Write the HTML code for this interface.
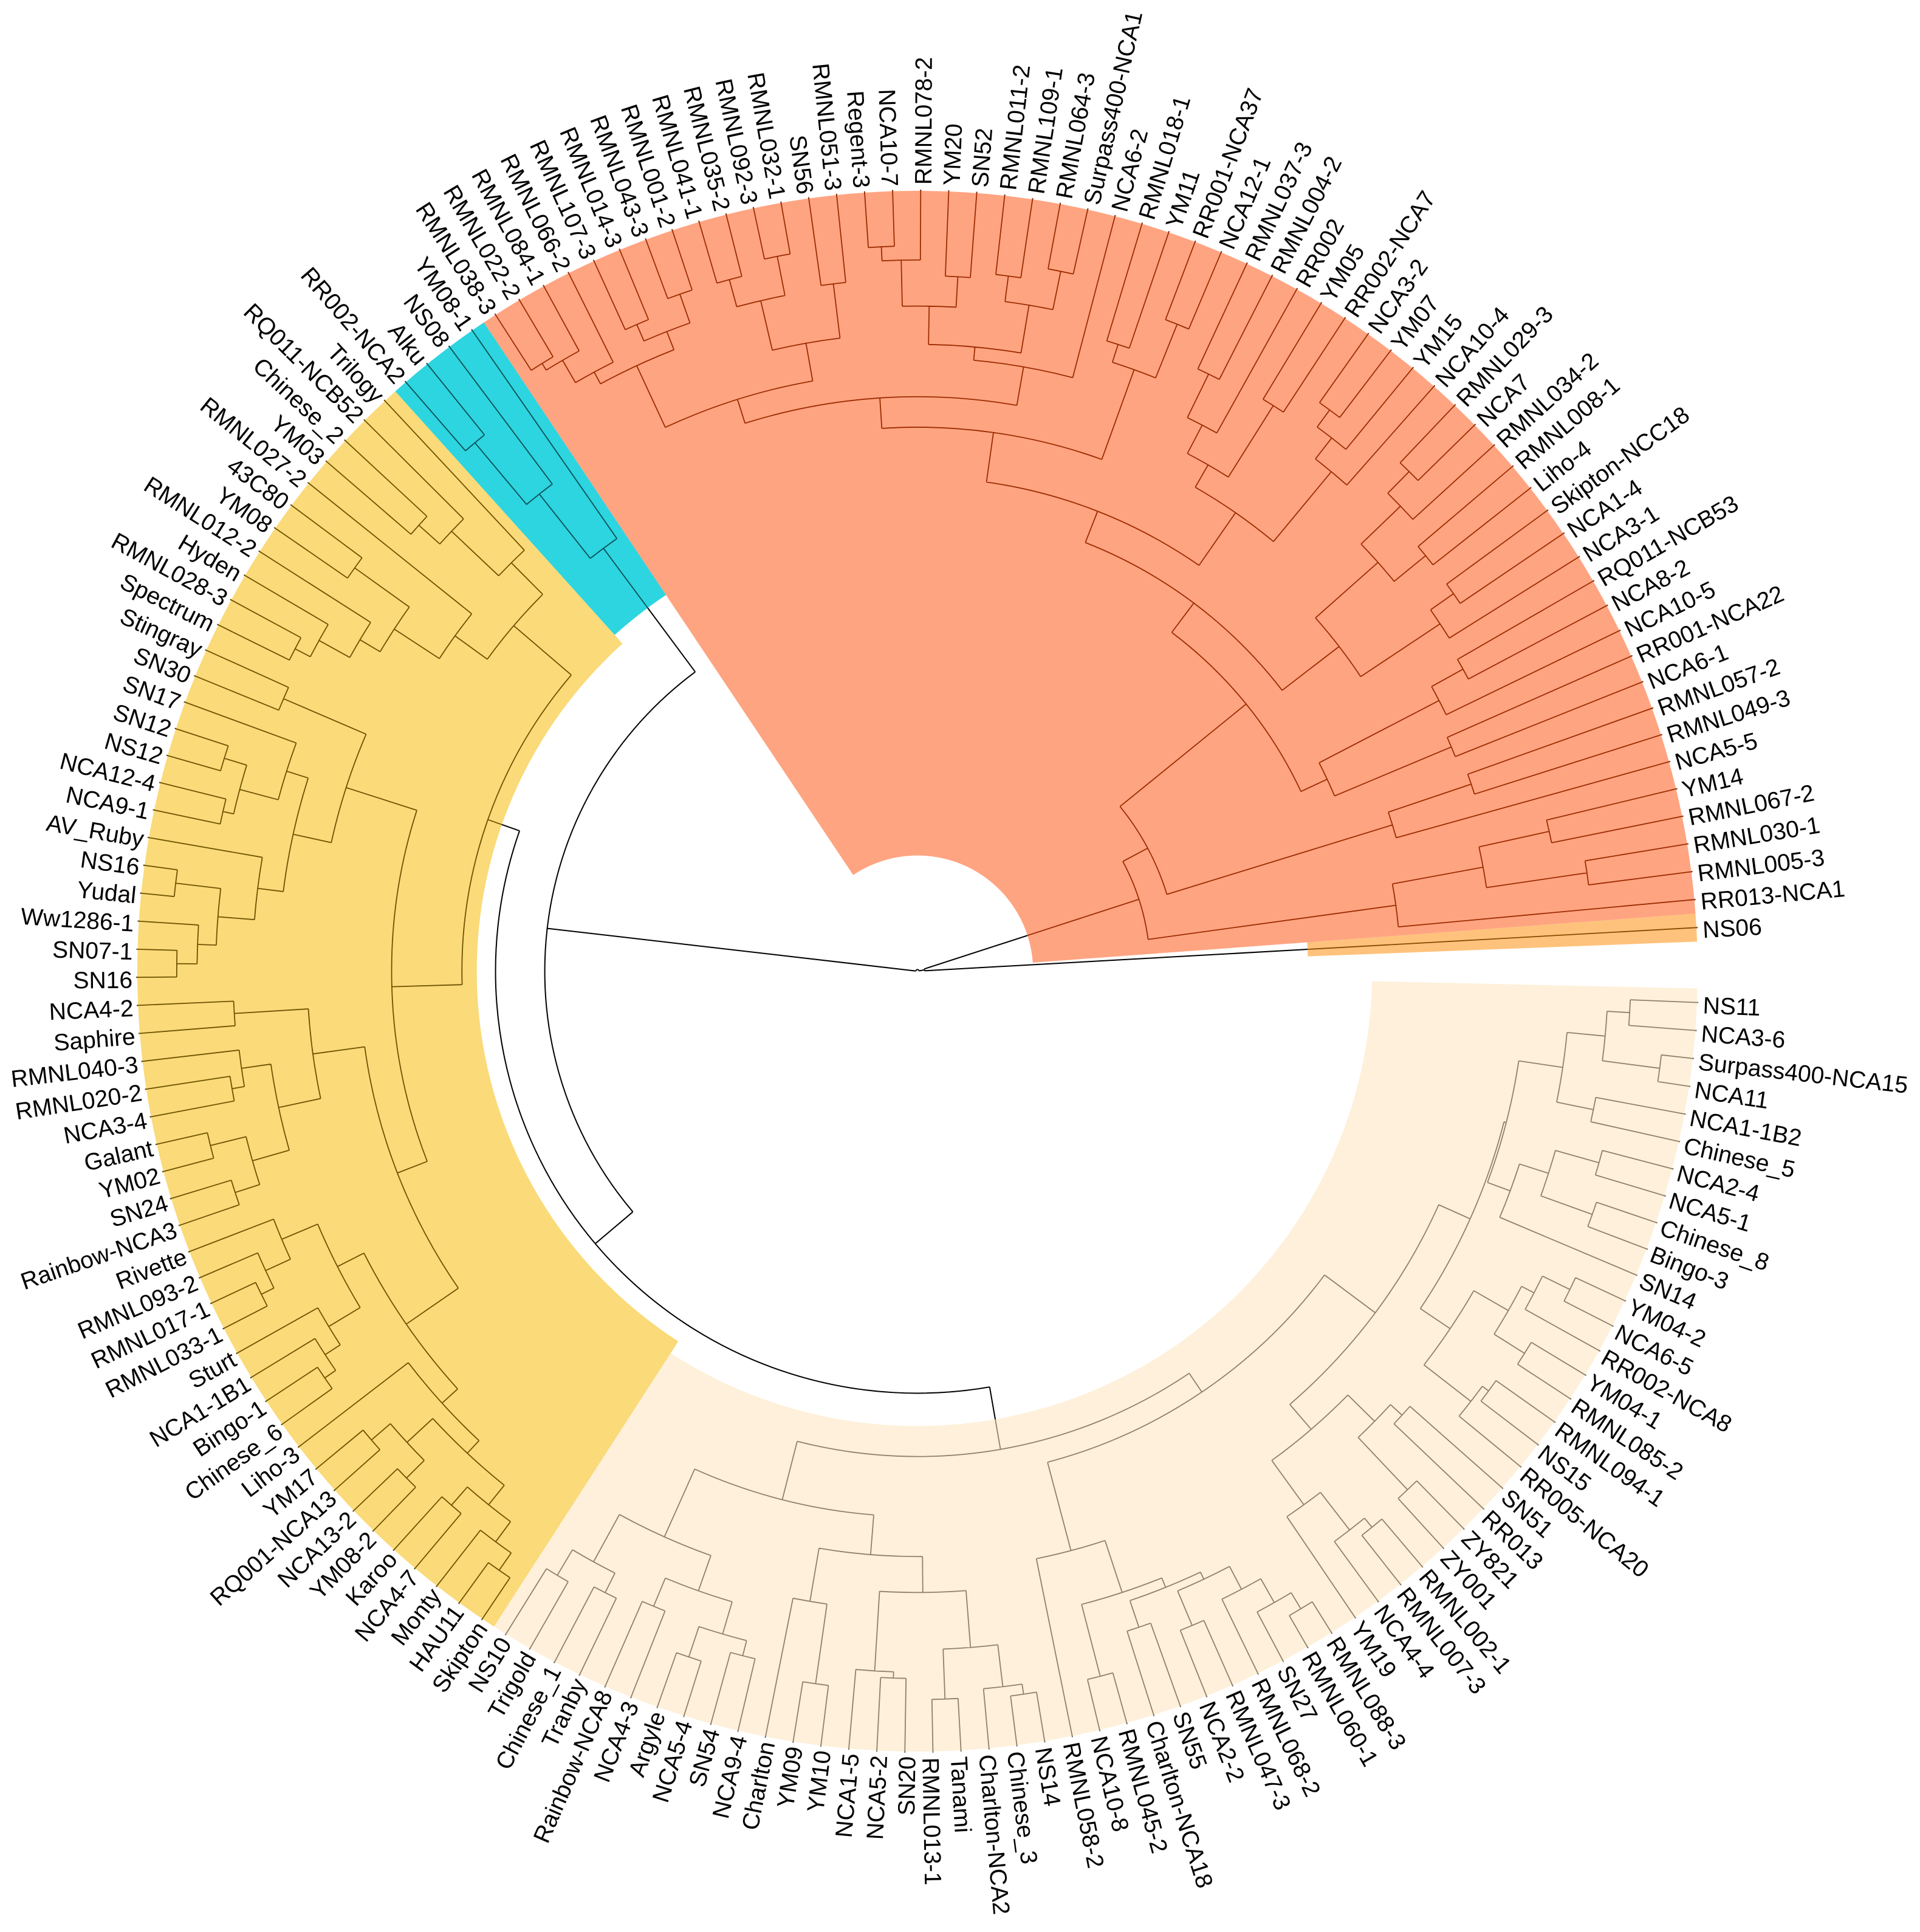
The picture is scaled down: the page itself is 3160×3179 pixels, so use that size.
<!DOCTYPE html>
<html lang="en">
<head>
<meta charset="utf-8">
<title>Circular dendrogram</title>
<style>
html,body{margin:0;padding:0;background:#fff}
svg{display:block}
text{font-family:"Liberation Sans",Arial,sans-serif;font-size:39px;fill:#000}
</style>
</head>
<body>
<svg id="chart" xmlns="http://www.w3.org/2000/svg" width="3160" height="3179" viewBox="0 0 3160 3179">
<rect x="0" y="0" width="3160" height="3179" fill="#ffffff"/>
<defs id="clips"></defs>
<g id="base"></g>
<g id="sectors"></g>
<g id="overlays"></g>
<g id="labels"></g>
</svg>
<script>
// Node format: [height, child, child]; a string child is a leaf. Height = root-to-node distance (per mille of root-to-tip).
const salmonClade = [298,
  [618, "RR013-NCA1", [736, [866, "RMNL005-3", "RMNL030-1"], [828, "RMNL067-2", "YM14"]]],
  [334,
    [636, "NCA5-5", [748, "RMNL049-3", "RMNL057-2"]],
    [542,
      [579,
        [741, "NCA6-1", "RR001-NCA22"],
        [752, "NCA10-5", [798, "NCA8-2", "RQ011-NCB53"]]],
      [589,
        [681,
          [803, "NCA3-1", [839, "NCA1-4", "Skipton-NCC18"]],
          [788, [840, "Liho-4", "RMNL008-1"], [858, "RMNL034-2", [897, "NCA7", "RMNL029-3"]]]],
        [632,
          [714,
            [830, "NCA10-4", [864, "YM15", [891, "YM07", "NCA3-2"]]],
            [747, [855, "RR002-NCA7", "YM05"], [788, "RR002", [850, "RMNL004-2", "RMNL037-3"]]]],
          [696,
            [818, [892, "NCA12-1", "RR001-NCA37"], [842, "YM11", "RMNL018-1"]],
            [735,
              [785, "NCA6-2",
                [802,
                  [864, [914, "Surpass400-NCA1", "RMNL064-3"], [897, "RMNL109-1", "RMNL011-2"]],
                  [851, [890, "SN52", "YM20"], [910, "RMNL078-2", [928, "NCA10-7", "Regent-3"]]]]],
              [767,
                [816, [886, "RMNL051-3", "SN56"], [881, [932, "RMNL032-1", "RMNL092-3"], [917, "RMNL035-2", "RMNL041-1"]]],
                [854,
                  [879, [918, "RMNL001-2", "RMNL043-3"], [902, "RMNL014-3", "RMNL107-3"]],
                  [871, "RMNL066-2", [904, "RMNL084-1", [914, "RMNL022-2", "RMNL038-3"]]]]]]]]]]]];

const tealClade = [674, "YM08-1", [779, "NS08", [882, "Alku", "RR002-NCA2"]]];

const yellowClade = [583,
  [680,
    [737, "Trilogy", [820, "RQ011-NCB52", [856, "Chinese_2", "YM03"]]],
    [731, "RMNL027-2",
      [800, [886, "43C80", "YM08"], [830, "RMNL012-2", [875, "Hyden", [897, "RMNL028-3", "Spectrum"]]]]]],
  [673,
    [768,
      [883, "Stingray", "SN30"],
      [818,
        [847, "SN17", [898, [928, "SN12", "NS12"], [912, "NCA12-4", "NCA9-1"]]],
        [851, "AV_Ruby", [898, [956, "NS16", "Yudal"], [922, "Ww1286-1", [948, "SN07-1", "SN16"]]]]]],
    [714,
      [781,
        [876, "NCA4-2", "Saphire"],
        [836,
          [874, "RMNL040-3", [890, "RMNL020-2", "NCA3-4"]],
          [885, [932, "Galant", "YM02"], [918, "SN24", "Rainbow-NCA3"]]]],
      [795,
        [833,
          [883, "Rivette", [918, "RMNL093-2", [936, "RMNL017-1", "RMNL033-1"]]],
          [880, "Sturt", [903, "NCA1-1B1", [920, "Bingo-1", "Chinese_6"]]]],
        [822, "Liho-3",
          [844,
            [889, [921, "YM17", "RQ001-NCA13"], [921, "NCA13-2", "YM08-2"]],
            [876, [907, "Karoo", "NCA4-7"], [908, "Monty", [935, "HAU11", "Skipton"]]]]]]]]];

const beigeClade = [621,
  [698,
    [793,
      [862, [900, "NS10", "Trigold"], [890, "Chinese_1", "Tranby"]],
      [841, [880, "Rainbow-NCA8", "NCA4-3"], [884, [925, "Argyle", "NCA5-4"], [904, "SN54", "NCA9-4"]]]],
    [749,
      [818, "Charlton", [921, "YM09", "YM10"]],
      [795,
        [897, "NCA1-5", [905, "NCA5-2", "SN20"]],
        [868, [932, "RMNL013-1", "Tanami"], [922, "Charlton-NCA2", [935, "Chinese_3", "NS14"]]]]]],
  [650,
    [767, "RMNL058-2",
      [837,
        [932, "NCA10-8", "RMNL045-2"],
        [850,
          [886, "Charlton-NCA18", "SN55"],
          [860,
            [908, "NCA2-2", "RMNL047-3"],
            [893, "RMNL068-2", [928, "SN27", [952, "RMNL060-1", "RMNL088-3"]]]]]]],
    [731,
      [773,
        [843, "YM19", [904, "NCA4-4", [919, "RMNL007-3", "RMNL002-1"]]],
        [821, [913, "ZY001", "ZY821"], [841, "RR013", "SN51"]]],
      [775,
        [821,
          [897, "RR005-NCA20", [907, "NS15", "RMNL094-1"]],
          [872, [918, "RMNL085-2", "YM04-1"], [890, "RR002-NCA8", [929, "NCA6-5", "YM04-2"]]]],
        [778,
          [809, "SN14", [848, [918, "Bingo-3", "Chinese_8"], [906, "NCA5-1", "NCA2-4"]]],
          [835,
            [883, "Chinese_5", "NCA1-1B2"],
            [884, [958, "NCA11", "Surpass400-NCA15"], [913, "NCA3-6", "NS11"]]]]]]]];

const outgroupClade = "NS06";
const rootTree = [2, [9, outgroupClade, salmonClade], [477, tealClade, [540, yellowClade, beigeClade]]];

// Clade names, fills, branch colours and inner extent (per mille) of each highlighted sector
const cladeNames = ["orange", "salmon", "teal", "yellow", "beige"];
const cladeNodes = [outgroupClade, salmonClade, tealClade, yellowClade, beigeClade];
const cladeFills = ["#FFC27C", "#FFA481", "#2CD5DF", "#FADA79", "#FEF0DA"];
const cladeLines = ["#8a4b00", "#9c2c00", "#0c4f55", "#6e5200", "#8f806a"];
const cladeInner = [500, 148, 579, 564, 582];

// Axis configuration
const CX = 1510, CY = 1598, TIP_R = 1286, SECTOR_R = 1284, FIRST_ANGLE = 3.2, LAST_ANGLE = 357.7, LABEL_DROP = 5;

const NS = "http://www.w3.org/2000/svg";
function leavesOf(node) {
  if (typeof node === "string") return [node];
  return node.slice(1).reduce(function (acc, c) { return acc.concat(leavesOf(c)); }, []);
}
const leafOrder = leavesOf(rootTree);
const leafStep = (LAST_ANGLE - FIRST_ANGLE) / (leafOrder.length - 1);
function angleScale(i) { return FIRST_ANGLE + i * leafStep; }
function radiusScale(h) { return h / 1000 * TIP_R; }
function px(r, a) {
  const t = a * Math.PI / 180;
  return [CX + r * Math.cos(t), CY - r * Math.sin(t)];
}
function f(v) { return v.toFixed(2); }

let d = "";
function layout(node) {
  if (typeof node === "string") {
    return { r: TIP_R, a: angleScale(leafOrder.indexOf(node)) };
  }
  const r = radiusScale(node[0]);
  const kids = node.slice(1).map(layout);
  const a0 = kids[0].a, a1 = kids[kids.length - 1].a;
  const p0 = px(r, a0), p1 = px(r, a1);
  d += "M" + f(p0[0]) + " " + f(p0[1]) + "A" + f(r) + " " + f(r) + " 0 " + ((a1 - a0) > 180 ? 1 : 0) + " 0 " + f(p1[0]) + " " + f(p1[1]);
  kids.forEach(function (k) {
    const s = px(r, k.a), e = px(k.r, k.a);
    d += "M" + f(s[0]) + " " + f(s[1]) + "L" + f(e[0]) + " " + f(e[1]);
  });
  return { r: r, a: (a0 + a1) / 2 };
}
layout(rootTree);

function sectorPath(a0, a1, r0, r1) {
  const A = px(r1, a0), B = px(r1, a1), C = px(r0, a1), E = px(r0, a0);
  const large = (a1 - a0) > 180 ? 1 : 0;
  return "M" + f(A[0]) + " " + f(A[1]) + "A" + r1 + " " + r1 + " 0 " + large + " 0 " + f(B[0]) + " " + f(B[1]) +
         "L" + f(C[0]) + " " + f(C[1]) + "A" + f(r0) + " " + f(r0) + " 0 " + large + " 1 " + f(E[0]) + " " + f(E[1]) + "Z";
}

const base = document.getElementById("base");
const sectors = document.getElementById("sectors");
const overlays = document.getElementById("overlays");
const clips = document.getElementById("clips");
const labels = document.getElementById("labels");

const basePath = document.createElementNS(NS, "path");
basePath.setAttribute("d", d);
basePath.setAttribute("fill", "none");
basePath.setAttribute("stroke", "#000000");
basePath.setAttribute("stroke-width", "2");


base.appendChild(basePath);

cladeNames.forEach(function (name, i) {
  const ls = leavesOf(cladeNodes[i]);
  const first = leafOrder.indexOf(ls[0]);
  const last = leafOrder.indexOf(ls[ls.length - 1]);
  const a0 = angleScale(first - 0.5), a1 = angleScale(last + 0.5);
  const sd = sectorPath(a0, a1, radiusScale(cladeInner[i]), SECTOR_R);

  const sector = document.createElementNS(NS, "path");
  sector.setAttribute("d", sd);
  sector.setAttribute("fill", cladeFills[i]);
  
  
  sectors.appendChild(sector);

  const clip = document.createElementNS(NS, "clipPath");
  clip.setAttribute("id", "clip-" + name);
  const cp = document.createElementNS(NS, "path");
  cp.setAttribute("d", sectorPath(a0, a1, radiusScale(cladeInner[i]), TIP_R + 3));
  clip.appendChild(cp);
  clips.appendChild(clip);

  const over = document.createElementNS(NS, "path");
  over.setAttribute("d", d);
  over.setAttribute("fill", "none");
  over.setAttribute("stroke", cladeLines[i]);
  over.setAttribute("stroke-width", "1.8");
  over.setAttribute("clip-path", "url(#clip-" + name + ")");
  
  
  overlays.appendChild(over);
});

leafOrder.forEach(function (name, i) {
  const a = angleScale(i);
  const left = a > 90 && a < 270;
  const p = px(TIP_R + (left ? 6 : 8), a);
  const t = document.createElementNS(NS, "text");
  t.textContent = name;
  t.setAttribute("x", f(p[0]));
  t.setAttribute("y", f(p[1] + LABEL_DROP));
  t.setAttribute("dominant-baseline", "central");
  t.setAttribute("text-anchor", left ? "end" : "start");
  t.setAttribute("transform", "rotate(" + f(left ? 180 - a : -a) + " " + f(p[0]) + " " + f(p[1]) + ")");
  
  
  labels.appendChild(t);
});
</script>
</body>
</html>
